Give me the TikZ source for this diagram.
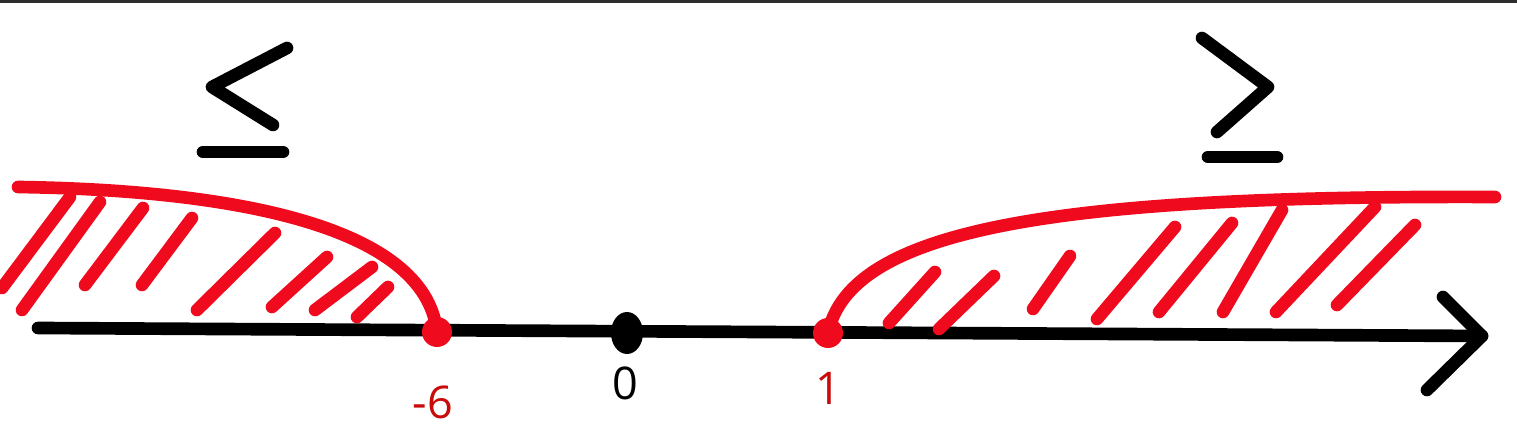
\documentclass[tikz,border=0pt]{standalone}
\usepackage{fontspec}
\setmainfont{Open Sans}
\usepackage{tikz}
\usetikzlibrary{calc, positioning}

\definecolor{penred}{RGB}{240,10,30}
\definecolor{labred}{RGB}{200,10,10}

\begin{document}
\begin{tikzpicture}[x=0.01cm, y=-0.01cm,
    pen/.style={line width=3.6pt, line cap=round, line join=round},
    numlab/.style={font=\fontsize{12.8}{14}\selectfont, inner sep=0pt}]
    \useasboundingbox (0,0) rectangle (1517,425);
    \draw[gray!35!black, line width=1pt] (0,1) -- (1517,1);
    % axis
    \coordinate (start) at (38,328);
    \coordinate (tip) at (1482,336);
    \coordinate (m6) at (437,332);
    \coordinate (zero) at (627,333);
    \coordinate (one) at (828,333);
    \draw[pen] (start) -- (tip);
    \draw[pen] (1443,297) -- (tip) -- (1427,390);
    % left region  x <= -6
    \draw[pen, penred] (18,187) .. controls (230,190) and (425,225) .. (m6);
    \foreach \a/\b/\c/\d in {2/288/70/197, 22/310/100/202, 85/285/143/208, 142/285/192/218,
                             197/310/275/233, 272/307/327/257, 315/310/372/267, 357/317/388/287}
        \draw[pen, penred] (\a,\b) -- (\c,\d);
    % right region  x >= 1
    \draw[pen, penred] (one) .. controls (850,230) and (1050,195) .. (1495,197);
    \foreach \a/\b/\c/\d in {889/323/935/272, 939/329/994/276, 1033/309/1070/256, 1097/319/1175/227,
                             1159/312/1232/223, 1223/312/1282/210, 1276/312/1375/207, 1337/305/1415/225}
        \draw[pen, penred] (\a,\b) -- (\c,\d);
    % points
    \fill[penred] (m6) circle[radius=15];
    \fill[black] (zero) ellipse[x radius=16, y radius=21];
    \fill[penred] (one) circle[radius=15];
    \node[numlab, labred] (lm6) at (433,402) {-6};
    \node[numlab] (l0) at (625,383) {0};
    \node[numlab, labred] (l1) at (828,388) {1};
    % signs
    \draw[pen] (287,48) -- (212,87) -- (273,125);
    \draw[pen] (203,152) -- (283,152);
    \draw[pen] (1202,38) -- (1268,87) -- (1217,132);
    \draw[pen] (1208,157) -- (1277,157);
\end{tikzpicture}
\end{document}
